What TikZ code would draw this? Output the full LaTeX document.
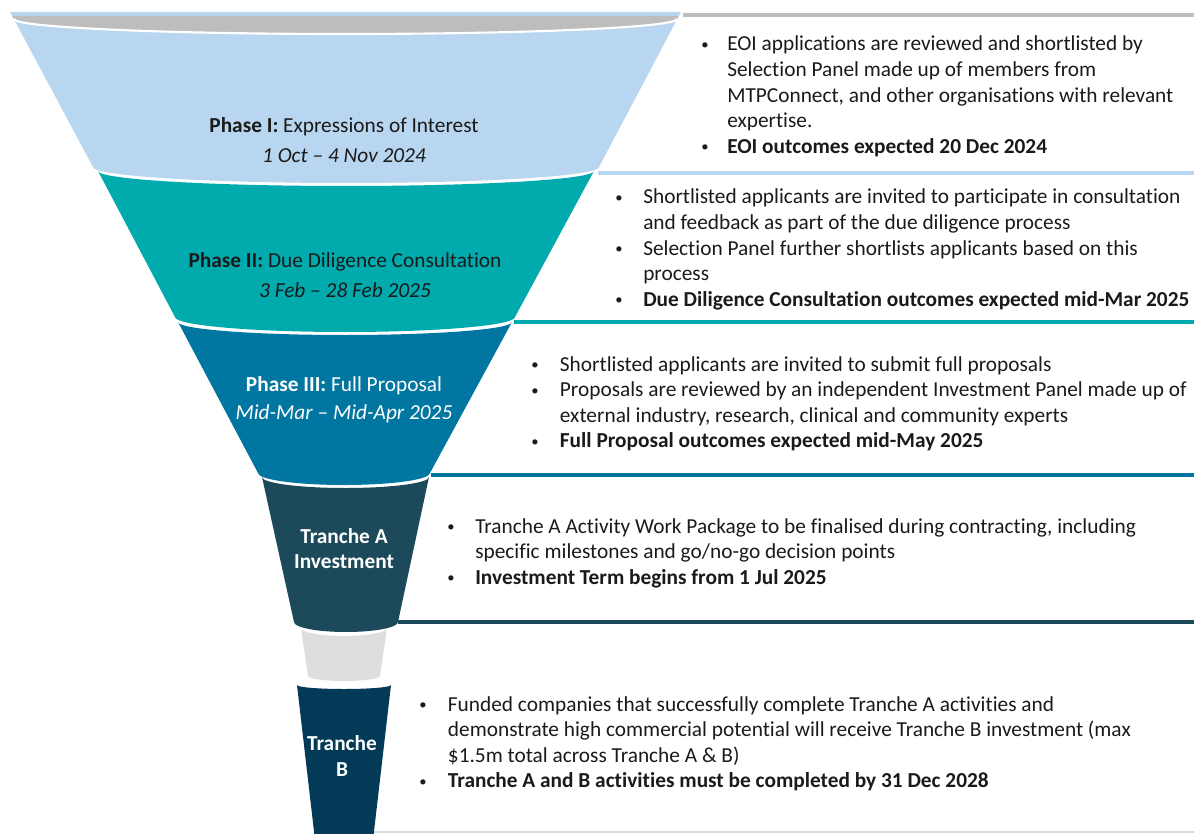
\documentclass[tikz,border=0pt]{standalone}
\usepackage{fontspec}
\setmainfont{Carlito}[Ligatures={NoCommon,NoContextual},RawFeature={-liga,-clig,-calt,-dlig}]
\usepackage{array}
\definecolor{rimgrey}{HTML}{BDBDBD}
\definecolor{pone}{HTML}{B9D6F0}
\definecolor{ptwo}{HTML}{00AAAD}
\definecolor{pthree}{HTML}{0076A1}
\definecolor{trA}{HTML}{1C4A5B}
\definecolor{cupgrey}{HTML}{DEDEDE}
\definecolor{trB}{HTML}{023A57}
\definecolor{bodytext}{HTML}{1A1A1A}
\newcommand\funnelseg[9]{%
  \path[fill=#1] (#2,-#4) arc[start angle=180,end angle=360,x radius={(#3-#2)/2},y radius=#5]
    -- (#7,-#8) arc[start angle=0,end angle=-180,x radius={(#7-#6)/2},y radius=#9] -- cycle;}
\newcommand\blt[1]{\makebox[#1][l]{\raisebox{1.2pt}{\fontsize{11}{11}\selectfont •}}}
\tikzset{
  sepline/.style={line width=2.4pt},
  bodyblock/.style={anchor=base west,inner sep=0pt,text=bodytext,font=\fontsize{16}{19.2}\selectfont},
  phaselabel/.style={anchor=base,inner sep=0pt,font=\fontsize{16}{19.2}\selectfont},
}
\begin{document}
\begin{tikzpicture}[x=0.75pt,y=0.75pt]
\useasboundingbox (0,0) rectangle (1194,-834);
% funnel segments (bottom first)
\funnelseg{trB}{297}{391}{685}{4}{315}{373}{840}{0}
\funnelseg{cupgrey}{301}{387}{628}{8}{308}{380}{676}{5}
\funnelseg{trA}{262}{429}{477}{11}{294}{398}{622}{10}
\funnelseg{pthree}{178}{512}{322}{13}{258}{430}{473}{12}
\funnelseg{ptwo}{98}{594}{171}{15}{175}{515}{317}{15}
\funnelseg{pone}{10}{681}{12}{0}{93}{599}{167}{16}
% top rim
\path[fill=rimgrey] (12,-16) -- (679,-16) -- (677,-19)
  arc[start angle=0,end angle=-180,x radius=331.5,y radius=15] -- cycle;
\draw[white,line width=1.6pt] (677,-19) arc[start angle=0,end angle=-180,x radius=331.5,y radius=15];
% separator lines
\draw[sepline,rimgrey] (683,-15) -- (1194,-15);
\draw[sepline,pone] (598,-173) -- (1194,-173);
\draw[sepline,ptwo] (514,-322) -- (1194,-322);
\draw[sepline,pthree] (431,-475) -- (1194,-475);
\draw[sepline,trA] (398,-622) -- (1194,-622);
\draw[line width=1.2pt,black!15] (374,-832) -- (1194,-832);
% funnel labels
\node[phaselabel,text=bodytext] (l1) at (344,-133) {\begin{tabular}[t]{@{}c@{}}\textbf{Phase I:} Expressions of Interest\\[3.3pt] \textit{1 Oct – 4 Nov 2024}\end{tabular}};
\node[phaselabel,text=bodytext] (l2) at (345,-267) {\begin{tabular}[t]{@{}c@{}}\textbf{Phase II:} Due Diligence Consultation\\[3.3pt] \textit{3 Feb – 28 Feb 2025}\end{tabular}};
\node[phaselabel,text=white] (l3) at (344,-391) {\begin{tabular}[t]{@{}c@{}}\textbf{Phase III:} Full Proposal\\[1.8pt] \textit{Mid-Mar – Mid-Apr 2025}\end{tabular}};
\node[phaselabel,text=white] (l4) at (344,-543) {\begin{tabular}[t]{@{}c@{}}\textbf{Tranche A}\\[-0.4pt] \textbf{Investment}\end{tabular}};
\node[phaselabel,text=white] (l5) at (342,-750) {\begin{tabular}[t]{@{}c@{}}\textbf{Tranche}\\[0.3pt] \textbf{B}\end{tabular}};
% text blocks
\node[bodyblock] (b1) at (701,-51) {\begin{tabular}[t]{@{}l@{}l@{}}
\blt{19.5pt} & EOI applications are reviewed and shortlisted by\\
 & Selection Panel made up of members from\\
 & MTPConnect, and other organisations with relevant\\
 & expertise.\\
\blt{19.5pt} & \textbf{EOI outcomes expected 20 Dec 2024}
\end{tabular}};
\node[bodyblock] (b2) at (615,-204) {\begin{tabular}[t]{@{}l@{}l@{}}
\blt{21pt} & Shortlisted applicants are invited to participate in consultation\\
 & and feedback as part of the due diligence process\\
\blt{21pt} & Selection Panel further shortlists applicants based on this\\
 & process\\
\blt{21pt} & \textbf{Due Diligence Consultation outcomes expected mid-Mar 2025}
\end{tabular}};
\node[bodyblock] (b3) at (531,-371) {\begin{tabular}[t]{@{}l@{}l@{}}
\blt{21.5pt} & Shortlisted applicants are invited to submit full proposals\\
\blt{21.5pt} & Proposals are reviewed by an independent Investment Panel made up of\\
 & external industry, research, clinical and community experts\\
\blt{21.5pt} & \textbf{Full Proposal outcomes expected mid-May 2025}
\end{tabular}};
\node[bodyblock] (b4) at (447,-533) {\begin{tabular}[t]{@{}l@{}l@{}}
\blt{21pt} & Tranche A Activity Work Package to be finalised during contracting, including\\
 & specific milestones and go/no-go decision points\\
\blt{21pt} & \textbf{Investment Term begins from 1 Jul 2025}
\end{tabular}};
\node[bodyblock] (b5) at (419,-711) {\begin{tabular}[t]{@{}l@{}l@{}}
\blt{21.5pt} & Funded companies that successfully complete Tranche A activities and\\
 & demonstrate high commercial potential will receive Tranche B investment (max\\
 & \$1.5m total across Tranche A \& B)\\
\blt{21.5pt} & \textbf{Tranche A and B activities must be completed by 31 Dec 2028}
\end{tabular}};
\end{tikzpicture}
\end{document}
